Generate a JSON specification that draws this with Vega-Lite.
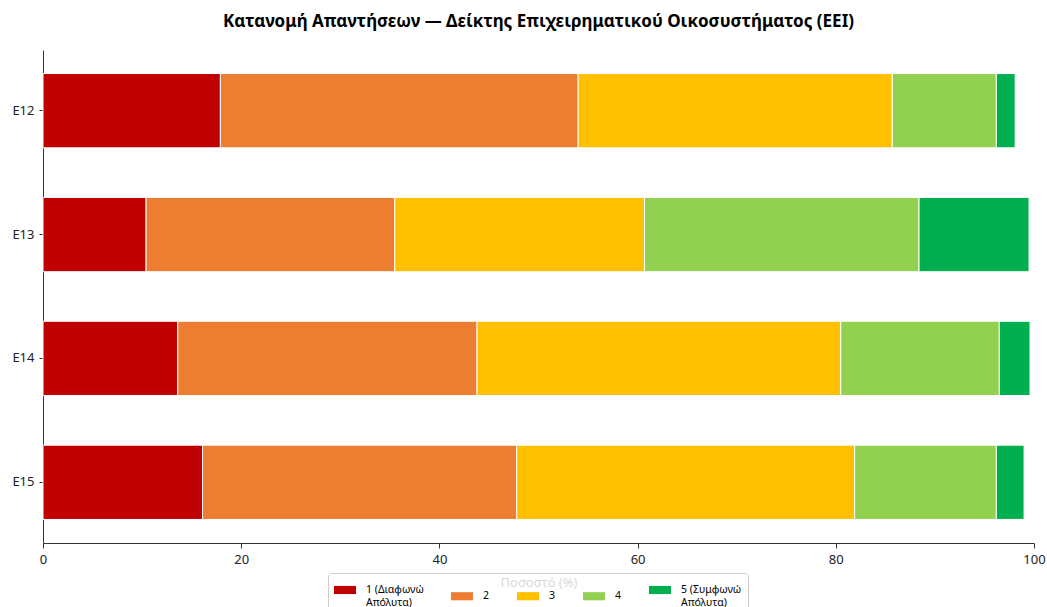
{
  "$schema": "https://vega.github.io/schema/vega-lite/v6.json",
  "width": 991,
  "height": 493,
  "autosize": "none",
  "padding": {"left": 43, "top": 50, "right": 13, "bottom": 64},
  "background": "white",
  "config": {
    "font": "Noto Sans",
    "view": {"stroke": null}
  },
  "title": {
    "text": "Κατανομή Απαντήσεων — Δείκτης Επιχειρηματικού Οικοσυστήματος (EEI)",
    "font": "Noto Sans",
    "fontSize": 17,
    "fontWeight": "bold",
    "color": "#000000",
    "anchor": "middle",
    "offset": 19
  },
  "data": {
    "values": [
      {"item": "E12", "level": 1, "response": "1 (Διαφωνώ Απόλυτα)", "pct": 17.9},
      {"item": "E12", "level": 2, "response": "2", "pct": 36.1},
      {"item": "E12", "level": 3, "response": "3", "pct": 31.7},
      {"item": "E12", "level": 4, "response": "4", "pct": 10.5},
      {"item": "E12", "level": 5, "response": "5 (Συμφωνώ Απόλυτα)", "pct": 1.9},
      {"item": "E13", "level": 1, "response": "1 (Διαφωνώ Απόλυτα)", "pct": 10.4},
      {"item": "E13", "level": 2, "response": "2", "pct": 25.1},
      {"item": "E13", "level": 3, "response": "3", "pct": 25.2},
      {"item": "E13", "level": 4, "response": "4", "pct": 27.7},
      {"item": "E13", "level": 5, "response": "5 (Συμφωνώ Απόλυτα)", "pct": 11.1},
      {"item": "E14", "level": 1, "response": "1 (Διαφωνώ Απόλυτα)", "pct": 13.6},
      {"item": "E14", "level": 2, "response": "2", "pct": 30.2},
      {"item": "E14", "level": 3, "response": "3", "pct": 36.7},
      {"item": "E14", "level": 4, "response": "4", "pct": 16.0},
      {"item": "E14", "level": 5, "response": "5 (Συμφωνώ Απόλυτα)", "pct": 3.1},
      {"item": "E15", "level": 1, "response": "1 (Διαφωνώ Απόλυτα)", "pct": 16.1},
      {"item": "E15", "level": 2, "response": "2", "pct": 31.7},
      {"item": "E15", "level": 3, "response": "3", "pct": 34.1},
      {"item": "E15", "level": 4, "response": "4", "pct": 14.3},
      {"item": "E15", "level": 5, "response": "5 (Συμφωνώ Απόλυτα)", "pct": 2.8}
    ]
  },
  "mark": {"type": "bar", "stroke": "white", "strokeWidth": 1},
  "encoding": {
    "y": {
      "field": "item",
      "type": "nominal",
      "sort": ["E12", "E13", "E14", "E15"],
      "scale": {"paddingInner": 0.4, "paddingOuter": 0.19},
      "axis": {
        "title": null,
        "labelFont": "Noto Sans",
        "labelFontSize": 13,
        "labelColor": "#222222",
        "labelPadding": 5,
        "tickSize": 4,
        "tickColor": "#333333",
        "domainColor": "#333333",
        "domainWidth": 1,
        "grid": false
      }
    },
    "x": {
      "field": "pct",
      "type": "quantitative",
      "stack": "zero",
      "scale": {"domain": [0, 100], "nice": false},
      "axis": {
        "title": "Ποσοστό (%)",
        "titleFont": "Noto Sans",
        "titleFontSize": 13,
        "titleFontWeight": "normal",
        "titleColor": "#333333",
        "titlePadding": 10,
        "values": [0, 20, 40, 60, 80, 100],
        "labelFlush": false,
        "labelFont": "Noto Sans",
        "labelFontSize": 13,
        "labelColor": "#222222",
        "labelPadding": 5,
        "tickSize": 5,
        "tickColor": "#333333",
        "domainColor": "#333333",
        "domainWidth": 1,
        "grid": false
      }
    },
    "color": {
      "field": "response",
      "type": "nominal",
      "scale": {
        "domain": ["1 (Διαφωνώ Απόλυτα)", "2", "3", "4", "5 (Συμφωνώ Απόλυτα)"],
        "range": ["#C00000", "#ED7D31", "#FFC000", "#92D050", "#00B050"]
      },
      "legend": {
        "title": null,
        "orient": "none",
        "legendX": 285,
        "legendY": 523,
        "direction": "horizontal",
        "columns": 5,
        "symbolType": "M-1,-0.37H1V0.37H-1Z",
        "symbolSize": 484,
        "symbolStrokeWidth": 0,
        "labelFont": "Noto Sans",
        "labelFontSize": 10.5,
        "labelColor": "#000000",
        "labelOffset": 10,
        "labelExpr": "indexof(datum.label, ' Απ') > 0 ? [substring(datum.label, 0, indexof(datum.label, ' Απ')), substring(datum.label, indexof(datum.label, ' Απ') + 1)] : datum.label",
        "columnPadding": 27,
        "padding": 6,
        "strokeColor": "#cccccc",
        "fillColor": "rgba(255,255,255,0.8)",
        "cornerRadius": 3
      }
    },
    "order": {"field": "level", "type": "quantitative", "sort": "ascending"}
  }
}
